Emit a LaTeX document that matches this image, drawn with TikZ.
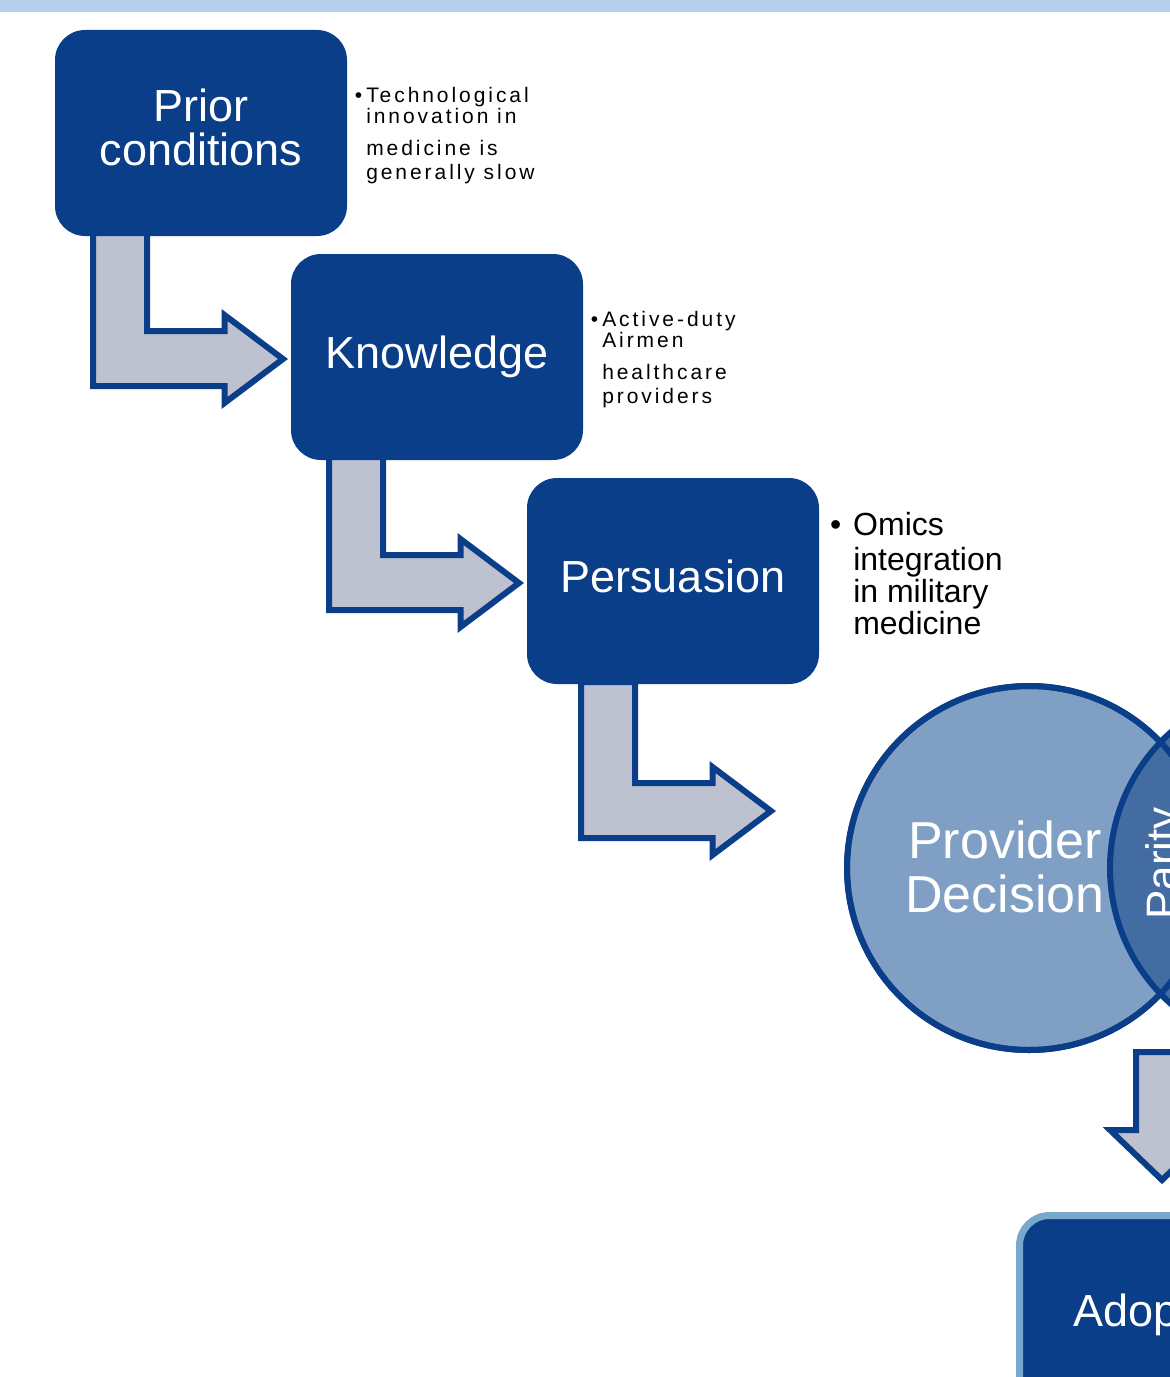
\documentclass[tikz,border=0pt]{standalone}
\usepackage{fontspec}
\setmainfont{Liberation Sans}
\usetikzlibrary{calc}

\definecolor{boxblue}{HTML}{0A3E88}
\definecolor{arrowgrey}{HTML}{BDC1D0}
\definecolor{circlelight}{HTML}{809FC4}
\definecolor{circledark}{HTML}{436CA3}
\definecolor{barblue}{HTML}{B4D0EC}
\definecolor{rimblue}{HTML}{78A8CB}

\begin{document}
\begin{tikzpicture}[x=0.75pt, y=-0.75pt,
		stage/.style={rectangle, rounded corners=22.5pt, fill=boxblue, text=white,
			minimum width=219pt, minimum height=154.5pt, inner sep=0pt, outer sep=0pt,
			align=center, font=\fontsize{33.75}{33}\selectfont},
		oneline/.style={text height=25.3pt, text depth=8.4pt},
		arrowshape/.style={draw=boxblue, line width=4.5pt, fill=arrowgrey},
		note/.style={anchor=north west, inner sep=0pt, align=left,
			font=\fontsize{15.75}{15.75}\selectfont\addfontfeature{LetterSpace=14}},
		bignote/.style={anchor=north west, inner sep=0pt, align=left,
			font=\fontsize{24}{24}\selectfont},
		venn/.style={circle, minimum size=273pt, inner sep=0pt, outer sep=0pt,
			draw=boxblue, line width=4.5pt},
		ring/.style={draw=boxblue, line width=4.5pt},
		elbowarrow/.pic={
			\draw[arrowshape] (0,-6) -- (0,150) -- (131.5,150) -- (131.5,167) -- (190,123)
				-- (131.5,79) -- (131.5,95) -- (54,95) -- (54,-6) -- cycle;
		}]
		\useasboundingbox (0,0) rectangle (1170,1377);
		\clip (0,0) rectangle (1170,1377);
		% Top bar
		\fill[barblue] (0,0) rectangle (1170,12);
		% Stage boxes
		\coordinate (priorpos) at (201,133);
		\coordinate (knowpos) at (437,357);
		\coordinate (perspos) at (673,581);
		% Step arrows (under the boxes)
		\path (priorpos) ++(-146,103) coordinate (priorsw);
		\path (knowpos) ++(-146,103) coordinate (knowsw);
		\path (perspos) ++(-146,103) coordinate (perssw);
		\pic at ($(priorsw)+(38,0)$) {elbowarrow};
		\pic at ($(knowsw)+(38,0)$) {elbowarrow};
		\pic at ($(perssw)+(54,4)$) {elbowarrow};
		\node[stage] (prior) at (priorpos) {Prior\\conditions\rule[-9pt]{0pt}{0pt}};
		\node[stage, oneline] (knowledge) at (knowpos) {Knowledge};
		\node[stage, oneline] (persuasion) at (perspos) {Persuasion};
		% Side notes
		\node[note] (priornote) at (366,87)
			{\llap{\textbullet\hspace{3pt}}Technological\\innovation in\\[8.25pt]medicine is\\[2.25pt]generally slow};
		\node[note] (knownote) at (602,311)
			{\llap{\textbullet\hspace{3pt}}Active-duty\\Airmen\\[8.25pt]healthcare\\[2.25pt]providers};
		\node[bignote] (persnote) at (853,512)
			{\llap{\textbullet\hspace{9pt}}Omics\\[2.25pt]integration\\in military\\medicine};
		% Decision circles
		\node[venn, fill=circlelight] (decision) at (1029,868) {};
		\node[venn, fill=circledark] (parity) at (1292,868) {};
		\draw[ring] (decision.center) circle[radius=136.5pt];
		\node[text=white, align=center, font=\fontsize{39}{41}\selectfont] (decisionlabel)
			at (1005,867) {Provider\\Decision};
		\node[rotate=90, anchor=base west, inner sep=0pt, text=white,
			font=\fontsize{33}{33}\selectfont] (paritylabel) at (1177,920) {Parity};
		% Adoption box and down arrow
		\node[stage, oneline, draw=rimblue, line width=5.25pt, minimum width=213.75pt,
			minimum height=149.25pt, anchor=north] (adoption) at (1162,1215.5) {Adoption};
		\draw[arrowshape] ($(adoption.north)+(-26,-163.5)$) -- ++(0,78) -- ++(-26,0)
			-- ($(adoption.north)+(0,-35.5)$) -- ($(adoption.north)+(52,-85.5)$)
			-- ++(-26,0) -- ++(0,-78) -- cycle;
	\end{tikzpicture}
\end{document}
